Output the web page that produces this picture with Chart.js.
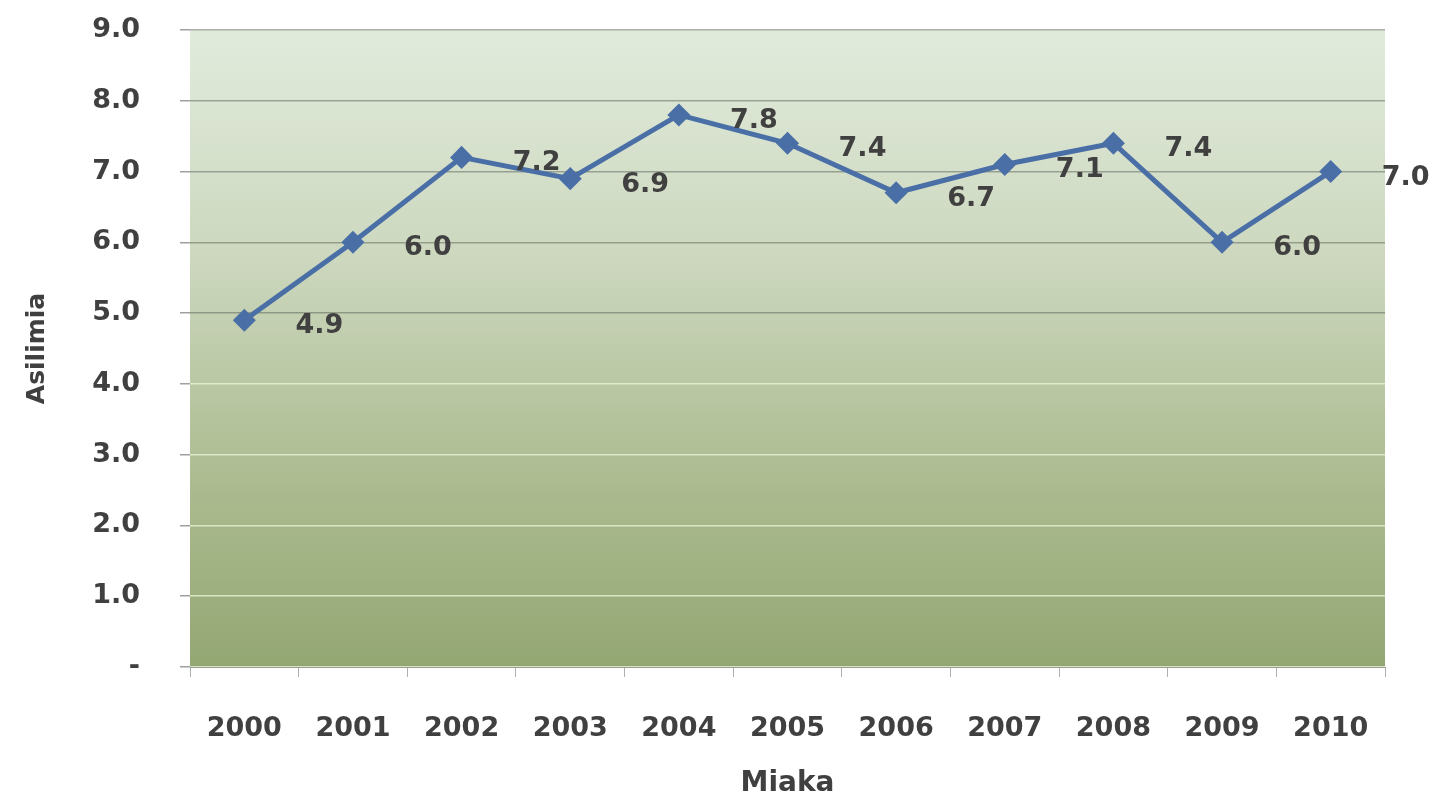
<!DOCTYPE html>
<html>
<head>
<meta charset="utf-8">
<script src="https://cdn.jsdelivr.net/npm/chart.js@4/dist/chart.umd.min.js"></script>
<style>
  html, body { margin: 0; padding: 0; background: #ffffff; }
  #wrap { width: 1444px; height: 803px; position: relative; }
</style>
</head>
<body>
<div id="wrap"><canvas id="chart"></canvas></div>
<script>
// --- Datos ---
const years = ['2000', '2001', '2002', '2003', '2004', '2005', '2006', '2007', '2008', '2009', '2010'];
const asilimia = [4.9, 6.0, 7.2, 6.9, 7.8, 7.4, 6.7, 7.1, 7.4, 6.0, 7.0];
const yTickLabels = ['-', '1.0', '2.0', '3.0', '4.0', '5.0', '6.0', '7.0', '8.0', '9.0'];

const textColor = '#404040';
const fontFamily = '"DejaVu Sans", Verdana, sans-serif';

// fondo degradado del área de trazado
const bgPlugin = {
  id: 'plotBg',
  beforeDraw: (c) => {
    const { ctx, chartArea } = c;
    const g = ctx.createLinearGradient(0, chartArea.top, 0, chartArea.bottom);
    g.addColorStop(0, '#e1ebdc');
    g.addColorStop(0.35, '#cdd8bf');
    g.addColorStop(0.7, '#adbc91');
    g.addColorStop(1, '#93a773');
    ctx.save();
    ctx.fillStyle = g;
    ctx.fillRect(chartArea.left, chartArea.top, chartArea.right - chartArea.left, chartArea.bottom - chartArea.top);
    ctx.restore();
  }
};

// etiquetas de datos a la derecha de cada punto
const labelPlugin = {
  id: 'dataLabels',
  afterDatasetsDraw: (c) => {
    const { ctx } = c;
    const meta = c.getDatasetMeta(0);
    ctx.save();
    ctx.font = 'bold 27px ' + fontFamily;
    ctx.fillStyle = textColor;
    ctx.textAlign = 'center';
    ctx.textBaseline = 'middle';
    meta.data.forEach((pt, i) => {
      ctx.fillText(asilimia[i].toFixed(1), pt.x + 75, pt.y + 6);
    });
    ctx.restore();
  }
};

new Chart(document.getElementById('chart'), {
  type: 'line',
  data: {
    labels: years,
    datasets: [{
      label: 'Asilimia',
      data: asilimia,
      borderColor: '#4a6fa6',
      backgroundColor: '#4a6fa6',
      borderWidth: 5,
      pointStyle: 'rectRot',
      pointRadius: 8,
      pointHoverRadius: 8,
      tension: 0
    }]
  },
  options: {
    responsive: true,
    maintainAspectRatio: false,
    animation: false,
    layout: { padding: { top: 30, right: 59, left: 22, bottom: 2 } },
    plugins: {
      legend: { display: false },
      tooltip: { enabled: false }
    },
    scales: {
      x: {
        offset: true,
        afterFit: (s) => { s.height = 134; },
        grid: {
          display: true,
          drawOnChartArea: false,
          drawTicks: true,
          tickLength: 10,
          color: '#b0b0b0',
          offset: true
        },
        border: { display: true, color: '#9aa08f', width: 1 },
        ticks: {
          color: textColor,
          padding: 36,
          font: { family: fontFamily, size: 27, weight: 'bold' }
        },
        title: {
          display: true,
          text: 'Miaka',
          color: textColor,
          padding: { top: 22, bottom: 0 },
          font: { family: fontFamily, size: 28, weight: 'bold' }
        }
      },
      y: {
        min: 0,
        max: 9,
        // ancho fijo y sin relleno extra arriba (el padding de ticks se sumaba)
        afterFit: (s) => { s.width = 168; s.paddingTop = 0; },
        ticks: {
          stepSize: 1,
          color: textColor,
          padding: 40,
          font: { family: fontFamily, size: 27, weight: 'bold' },
          callback: (v) => yTickLabels[v]
        },
        grid: {
          color: (ctx) => ctx.tick && ctx.tick.value >= 5 ? 'rgba(75,85,75,0.45)' : 'rgba(235,242,215,0.8)',
          lineWidth: 1.5,
          tickLength: 10,
          tickColor: '#a0a0a0'
        },
        border: { display: false },
        title: {
          display: true,
          text: 'Asilimia',
          color: textColor,
          padding: { top: 0, bottom: 0 },
          font: { family: fontFamily, size: 25, weight: 'bold' }
        }
      }
    }
  },
  plugins: [bgPlugin, labelPlugin]
});
</script>
</body>
</html>
